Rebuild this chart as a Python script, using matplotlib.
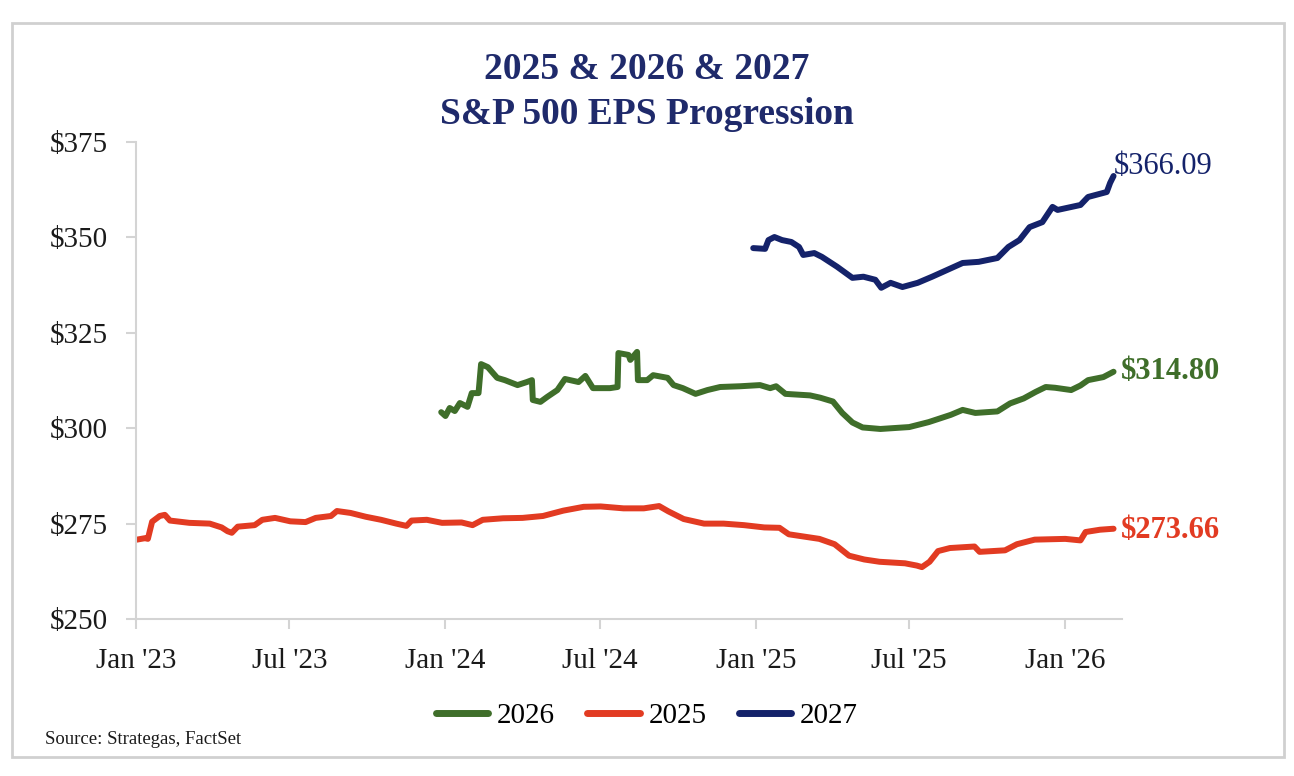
"""
S&P 500 EPS progression for the 2025 / 2026 / 2027 calendar years
"""
import pandas as pd
import matplotlib.pyplot as plt
import matplotlib.dates as mdates
from matplotlib.patches import Rectangle
from matplotlib.ticker import FuncFormatter, MultipleLocator

# ---- data ----
eps2025_dates = [
    "2023-01-02", "2023-01-12", "2023-01-15", "2023-01-20", "2023-01-29", "2023-02-04",
    "2023-02-10", "2023-03-05", "2023-03-29", "2023-04-12", "2023-04-19", "2023-04-24",
    "2023-05-01", "2023-05-21", "2023-05-30", "2023-06-14", "2023-07-02", "2023-07-20",
    "2023-08-01", "2023-08-19", "2023-08-26", "2023-09-11", "2023-09-29", "2023-10-17",
    "2023-11-04", "2023-11-16", "2023-11-22", "2023-12-10", "2023-12-28", "2024-01-20",
    "2024-02-02", "2024-02-14", "2024-03-09", "2024-04-01", "2024-04-25", "2024-05-19",
    "2024-06-12", "2024-07-02", "2024-07-29", "2024-08-22", "2024-09-09", "2024-09-20",
    "2024-10-08", "2024-11-01", "2024-11-24", "2024-12-18", "2025-01-11", "2025-01-29",
    "2025-02-09", "2025-02-27", "2025-03-17", "2025-04-04", "2025-04-21", "2025-05-09",
    "2025-05-27", "2025-06-26", "2025-07-10", "2025-07-16", "2025-07-25", "2025-08-04",
    "2025-08-18", "2025-09-16", "2025-09-22", "2025-10-22", "2025-11-05", "2025-11-26",
    "2026-01-01", "2026-01-19", "2026-01-25", "2026-02-11", "2026-02-27",
]
eps2025 = [
    270.8, 271.2, 271.0, 275.5, 277.0, 277.3,
    275.8, 275.2, 275.0, 274.0, 273.0, 272.6,
    274.2, 274.6, 276.0, 276.5, 275.6, 275.4,
    276.5, 277.0, 278.3, 277.8, 276.8, 276.0,
    275.0, 274.4, 275.8, 276.0, 275.2, 275.3,
    274.6, 276.0, 276.4, 276.5, 277.0, 278.4,
    279.4, 279.5, 279.0, 279.0, 279.6, 278.2,
    276.2, 275.0, 275.0, 274.6, 274.0, 273.9,
    272.2, 271.6, 271.0, 269.6, 266.6, 265.6,
    265.0, 264.6, 264.0, 263.6, 265.0, 267.8,
    268.6, 269.0, 267.6, 268.0, 269.6, 270.8,
    271.0, 270.6, 272.8, 273.4, 273.66,
]

eps2026_dates = [
    "2023-12-27", "2024-01-01", "2024-01-06", "2024-01-12", "2024-01-18", "2024-01-27",
    "2024-02-01", "2024-02-09", "2024-02-12", "2024-02-20", "2024-03-02", "2024-03-11",
    "2024-03-26", "2024-04-06", "2024-04-12", "2024-04-13", "2024-04-22", "2024-04-30",
    "2024-05-12", "2024-05-21", "2024-06-06", "2024-06-14", "2024-06-23", "2024-07-13",
    "2024-07-22", "2024-07-23", "2024-08-04", "2024-08-06", "2024-08-14", "2024-08-15",
    "2024-08-26", "2024-09-02", "2024-09-19", "2024-09-26", "2024-10-07", "2024-10-22",
    "2024-11-05", "2024-11-20", "2024-12-14", "2025-01-06", "2025-01-18", "2025-01-25",
    "2025-02-05", "2025-03-06", "2025-03-18", "2025-04-02", "2025-04-13", "2025-04-25",
    "2025-05-07", "2025-05-28", "2025-07-01", "2025-07-24", "2025-08-19", "2025-09-02",
    "2025-09-17", "2025-10-13", "2025-10-28", "2025-11-13", "2025-11-27", "2025-12-09",
    "2025-12-20", "2026-01-08", "2026-01-19", "2026-01-28", "2026-02-15", "2026-02-27",
]
eps2026 = [
    304.2, 303.2, 305.3, 304.5, 306.6, 305.6,
    309.2, 309.2, 316.8, 316.0, 313.2, 312.6,
    311.3, 312.1, 312.6, 307.4, 306.9, 308.2,
    310.0, 312.9, 312.1, 313.7, 310.5, 310.5,
    310.8, 319.7, 319.2, 317.9, 320.0, 312.6,
    312.6, 313.9, 313.2, 311.3, 310.5, 309.0,
    310.0, 310.8, 311.0, 311.3, 310.5, 311.0,
    309.0, 308.6, 308.0, 307.0, 304.0, 301.5,
    300.2, 299.8, 300.3, 301.6, 303.5, 304.8,
    304.0, 304.4, 306.5, 307.8, 309.5, 310.8,
    310.6, 310.0, 311.2, 312.6, 313.4, 314.80,
]

eps2027_dates = [
    "2024-12-29", "2025-01-12", "2025-01-16", "2025-01-23", "2025-02-01", "2025-02-12",
    "2025-02-21", "2025-02-26", "2025-03-11", "2025-03-20", "2025-04-07", "2025-04-25",
    "2025-05-08", "2025-05-22", "2025-05-29", "2025-06-09", "2025-06-23", "2025-07-11",
    "2025-07-28", "2025-08-15", "2025-09-02", "2025-09-21", "2025-10-13", "2025-10-26",
    "2025-11-08", "2025-11-20", "2025-12-05", "2025-12-17", "2025-12-23", "2026-01-19",
    "2026-01-28", "2026-02-19", "2026-02-23", "2026-02-27",
]
eps2027 = [
    347.2, 347.0, 349.3, 350.1, 349.3, 348.8,
    347.5, 345.4, 345.9, 344.9, 342.3, 339.4,
    339.7, 338.9, 336.8, 338.1, 337.0, 338.1,
    339.7, 341.5, 343.3, 343.6, 344.6, 347.5,
    349.3, 352.7, 354.0, 358.0, 357.2, 358.5,
    360.6, 361.9, 364.3, 366.09,
]

SERIES = [
    # label, dates, values, colour, end-label offset (px), end-label weight
    ("2026", eps2026_dates, eps2026, "#3F6E2A", (7, 0), "bold"),
    ("2025", eps2025_dates, eps2025, "#E23B22", (7, -2), "bold"),
    ("2027", eps2027_dates, eps2027, "#14226A", (0, 10), "normal"),
]

TITLE_COLOR = "#1F2A6B"
AXIS_GRAY = "#D4D4D4"

plt.rcParams.update({
    "font.family": ["Liberation Serif", "DejaVu Serif"],
    "font.size": 21,
})

fig = plt.figure(figsize=(12.94, 7.76), dpi=100)
ax = fig.add_axes([0.1051, 0.2023, 0.7620, 0.6147])

for label, dates, vals, color, off, weight in SERIES:
    d = pd.to_datetime(dates)
    ax.plot(d, vals, color=color, lw=4.3, label=label, solid_joinstyle="round",
            solid_capstyle="round")
    ax.annotate(f"${vals[-1]:.2f}", xy=(d[-1], vals[-1]), xytext=off,
                textcoords="offset pixels", ha="left", va="center",
                color=color, fontsize=22, fontweight=weight)

ax.set_ylim(250, 375)
ax.yaxis.set_major_locator(MultipleLocator(25))
ax.yaxis.set_major_formatter(FuncFormatter(lambda v, _: f"${v:.0f}"))
ax.set_xlim(pd.Timestamp("2023-01-01"), pd.Timestamp("2026-03-09"))
ax.xaxis.set_major_locator(mdates.MonthLocator(bymonth=[1, 7]))
ax.xaxis.set_major_formatter(mdates.DateFormatter("%b '%y"))

for side in ["top", "right"]:
    ax.spines[side].set_visible(False)
for side in ["left", "bottom"]:
    ax.spines[side].set_color(AXIS_GRAY)
    ax.spines[side].set_linewidth(1.5)
ax.tick_params(axis="both", colors=AXIS_GRAY, labelcolor="#1A1A1A",
               length=7, width=1.5, labelsize=21)
ax.tick_params(axis="y", pad=13)
ax.tick_params(axis="x", pad=14)

fig.text(0.5, 0.910, "2025 & 2026 & 2027", ha="center", va="center",
         fontsize=27, fontweight="bold", color=TITLE_COLOR)
fig.text(0.5, 0.852, "S&P 500 EPS Progression", ha="center", va="center",
         fontsize=27, fontweight="bold", color=TITLE_COLOR)

handles, labels = ax.get_legend_handles_labels()
leg = fig.legend(handles, labels, loc="center", bbox_to_anchor=(0.5, 0.077), ncol=3,
                 frameon=False, fontsize=21, handlelength=1.8, handletextpad=0.3,
                 columnspacing=1.1)
for line in leg.get_lines():
    line.set_linewidth(5)

fig.text(0.035, 0.047, "Source: Strategas, FactSet", ha="left", va="center",
         fontsize=13.5, color="#1A1A1A")

# outer frame
fig.patches.append(Rectangle((0.009, 0.024), 0.983, 0.946, transform=fig.transFigure,
                             fill=False, edgecolor="#D0D0D0", lw=2))

fig.savefig("out.png", dpi=100)
print("saved out.png")
